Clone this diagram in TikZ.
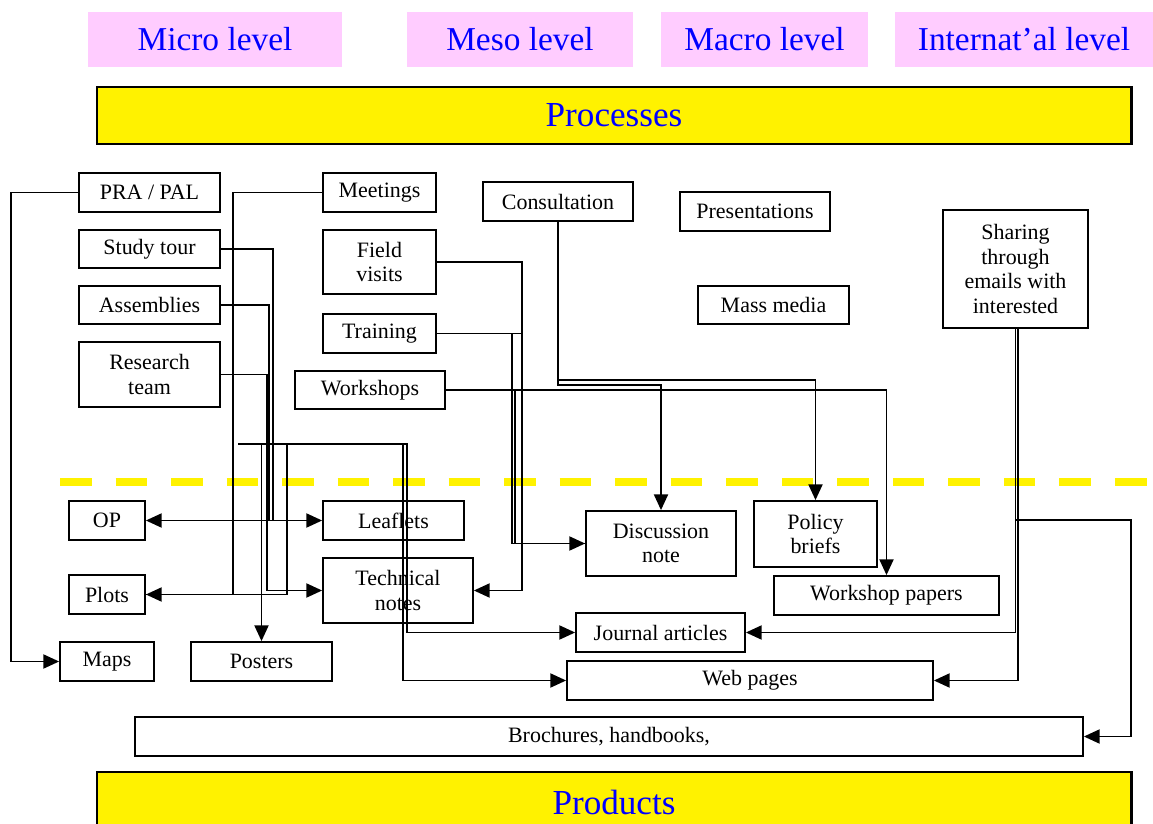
\documentclass[tikz,border=0pt]{standalone}
\usepackage{fontspec}
\setmainfont{Liberation Serif}
\usetikzlibrary{arrows.meta}
\definecolor{levelpink}{RGB}{255,204,255}
\tikzset{
  level/.style={fill=levelpink, text=blue, minimum width=#1*0.02cm,
    minimum height=55*0.02cm, inner sep=0pt, font=\fontsize{19}{22}\selectfont},
  band/.style={draw, line width=1.7pt, fill=yellow, text=blue,
    minimum width=1034*0.02cm, minimum height=#1*0.02cm, inner sep=0pt,
    font=\fontsize{20}{24}\selectfont},
  box/.style 2 args={draw, line width=1pt, minimum width=#1*0.02cm,
    minimum height=#2*0.02cm, inner sep=0pt, align=center,
    font=\fontsize{12.5}{14}\selectfont},
  arr/.style={-{Triangle[length=9pt,width=8pt]}},
  divider/.style={yellow, line width=4pt, dash pattern=on 18pt off 13.6pt}
}
\begin{document}
\begin{tikzpicture}[x=0.02cm, y=-0.02cm, line width=1.1pt]
    \useasboundingbox (0,0) rectangle (1153,824);

    % Levels and bands
    \node[level=254] (micro) at (215,39.5) {Micro level};
    \node[level=226] (meso) at (520,39.5) {Meso level};
    \node[level=207] (macro) at (764.5,39.5) {Macro level};
    \node[level=258] (intl) at (1024,39.5) {Internat'al level};
    \node[band=57] (processes) at (614,115.5) {Processes};
    \node[band=60] (products) at (614,802) {Products};

    \draw[divider] (60,482) -- (1153,482);

    % Processes
    \node[box={141}{39}] (pra) at (149.5,192.5) {PRA / PAL};
    \node[box={141}{38}] (study) at (149.5,249) {Study tour};
    \node[box={141}{38}] (assem) at (149.5,305) {Assemblies};
    \node[box={141}{65}] (research) at (149.5,374.5) {Research\\team};
    \node[box={113}{39}] (meet) at (379.5,192.5) {Meetings};
    \node[box={113}{64}] (field) at (379.5,262) {Field\\visits};
    \node[box={113}{39}] (train) at (379.5,333.5) {Training};
    \node[box={150}{38}] (wshops) at (370,390) {Workshops};
    \node[box={150}{39}] (consult) at (558,201.5) {Consultation};
    \node[box={150}{39}] (present) at (755,211.5) {Presentations};
    \node[box={151}{38}] (mass) at (773.5,305) {Mass media};
    \node[box={145}{118}] (sharing) at (1015.5,269) {Sharing\\through\\emails with\\interested};

    % Products
    \node[box={76}{39}] (op) at (107,520.5) {OP};
    \node[box={141}{39}] (leaf) at (393.5,520.5) {Leaflets};
    \node[box={150}{65}] (disc) at (661,543.5) {Discussion\\note};
    \node[box={123}{66}] (policy) at (815.5,534) {Policy\\briefs};
    \node[box={76}{39}] (plots) at (107,594.5) {Plots};
    \node[box={150}{65}] (tech) at (398,590.5) {Technical\\notes};
    \node[box={225}{39}] (wpapers) at (886.5,595.5) {Workshop papers};
    \node[box={169}{39}] (journal) at (660.5,632.5) {Journal articles};
    \node[box={94}{39}] (maps) at (107,661.5) {Maps};
    \node[box={141}{39}] (posters) at (261.5,661.5) {Posters};
    \node[box={366}{39}] (web) at (750,680.5) {Web pages};
    \node[box={948}{39}] (broch) at (609,736.5) {Brochures, handbooks,};

    % Micro level links
    \draw[arr] (pra.west) -- ++(-67,0) |- (maps.west);
    \draw[arr] (meet.west) -- ++(-89,0) |- (plots.east);
    \draw[arr] (study.east) -- ++(52,0) |- (leaf.west);
    \draw[arr] (study.east) -- ++(52,0) |- (op.east);
    \draw (assem.east) -- ++(48,0) -- ++(0,215.5);
    \draw[arr] (research.east) -- ++(46,0) |- (tech.west);

    % Shared line under the processes
    \coordinate (bus) at (238,444);
    \draw[arr] (bus) -| (posters.north);
    \draw (bus) -| (287,594.5) -- (plots.east);
    \draw[arr] (bus) -- (407,444) |- (journal.west);
    \draw[arr] (bus) -- (403,444) |- (web.west);

    % Meso and macro level links
    \draw[arr] (field.east) -- ++(85,0) |- (tech.east);
    \draw[arr] (train.east) -- ++(75,0) |- (disc.west);
    \draw (train.east) -- ++(85,0);
    \draw[arr] (wshops.east) -| (wpapers.north);
    \draw (515,390) |- (disc.west);
    \draw[arr] (consult.south) -- ++(0,158.5) -| (policy.north);
    \draw[arr] (consult.south) -- ++(0,163.5) -| (disc.north);

    % International level links
    \draw[arr] (sharing.south) |- (journal.east);
    \draw[arr] ([xshift=0.05cm]sharing.south) |- (web.east);
    \draw[arr] (sharing.south) |- (1131,520) |- (broch.east);
\end{tikzpicture}
\end{document}
